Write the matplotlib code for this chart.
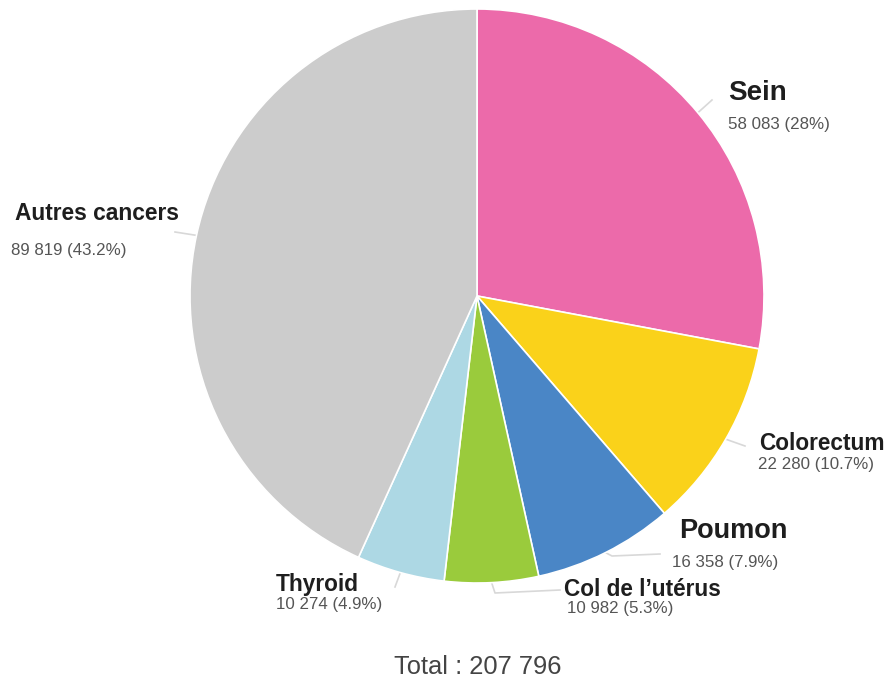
import matplotlib
matplotlib.use("Agg")
import matplotlib.pyplot as plt
import numpy as np

plt.rcParams["font.family"] = ["Liberation Sans", "DejaVu Sans"]

labels = ["Sein", "Colorectum", "Poumon", "Col de l\u2019utérus", "Thyroid", "Autres cancers"]
values = [58083, 22280, 16358, 10982, 10274, 89819]
value_text = ["58 083 (28%)", "22 280 (10.7%)", "16 358 (7.9%)", "10 982 (5.3%)",
              "10 274 (4.9%)", "89 819 (43.2%)"]
colors = ["#EC6AAA", "#FAD21A", "#4A86C6", "#9ACB3C", "#ADD8E4", "#CCCCCC"]
total_text = "Total : 207 796"

W, H = 888, 686
fig = plt.figure(figsize=(W / 100, H / 100), dpi=100)
ax = fig.add_axes([0, 0, 1, 1])

cx, cy, R = 477, H - 296, 287
ax.pie(values, colors=colors, startangle=90, counterclock=False,
       center=(cx, cy), radius=R, frame=True,
       wedgeprops=dict(edgecolor="white", linewidth=1.2))
ax.set_xlim(0, W)
ax.set_ylim(0, H)
ax.set_aspect("equal")
ax.axis("off")

# label placement (pixel coords, y from top): name pos, name size, value pos, leader bends
layout = {
    "Sein": ((728, 93), 20, (728, 125), [(712, 100)]),
    "Colorectum": ((759, 443), 16.3, (758, 465), [(745, 446)]),
    "Poumon": ((679, 531), 19.5, (672, 562), [(612, 556), (660, 554)]),
    "Col de l\u2019utérus": ((564, 589), 16.3, (567, 608), [(495, 593), (560, 590)]),
    "Thyroid": ((276, 585), 16.3, (276, 605), [(395, 587)]),
    "Autres cancers": ((15, 213), 16.4, (11, 251), [(175, 232)]),
}

fracs = np.array(values) / sum(values)
mids = np.cumsum(fracs) - fracs / 2
for lab, vt, f in zip(labels, value_text, mids):
    ang = np.deg2rad(90 - 360 * f)
    px, py = cx + R * np.cos(ang), cy + R * np.sin(ang)
    (nx, ny), nsize, (vx, vy), extra = layout[lab]
    xs = [px] + [e[0] for e in extra]
    ys = [py] + [H - e[1] for e in extra]
    ax.plot(xs, ys, color="#d8d8d8", lw=1.2, zorder=0.5)
    ax.text(nx, H - ny, lab, fontsize=nsize, fontweight="bold", color="#1e1e1e",
            ha="left", va="center")
    ax.text(vx, H - vy, vt, fontsize=12.2, color="#555555", ha="left", va="center")

ax.text(478, H - 667, total_text, fontsize=18.4, color="#444444", ha="center", va="center")

fig.savefig("out.png", dpi=100)
